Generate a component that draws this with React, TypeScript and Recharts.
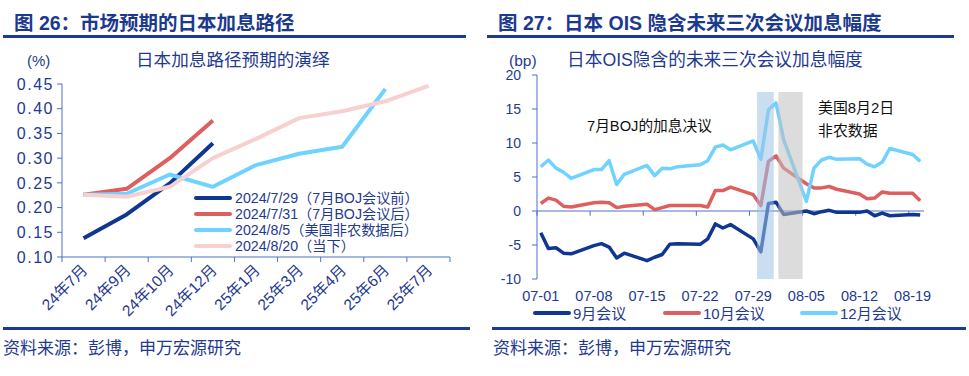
import { LineChart, Line, XAxis, YAxis, ReferenceArea, ReferenceLine } from 'recharts'

// 图26：市场预期的日本加息路径 (%)
const pathMonths = ['24年7月', '24年9月', '24年10月', '24年12月', '25年1月', '25年3月', '25年4月', '25年6月', '25年7月']
const pathYTicks = [0.1, 0.15, 0.2, 0.25, 0.3, 0.35, 0.4, 0.45]
const path0729 = [0.138, 0.186, 0.249, 0.33, null, null, null, null, null]
const path0731 = [0.226, 0.238, 0.3, 0.376, null, null, null, null, null]
const path0805 = [0.226, 0.228, 0.267, 0.242, 0.286, 0.309, 0.323, 0.44, null]
const path0820 = [0.226, 0.222, 0.242, 0.3, 0.339, 0.381, 0.395, 0.415, 0.446]

// 图27：日本OIS隐含的未来三次会议加息幅度 (bp), days counted from 07-01
const oisDays = [0, 1, 2, 3, 4, 7, 8, 9, 10, 11, 14, 15, 16, 17, 18, 21, 22, 23, 24, 25, 28, 29, 30, 31, 32, 35, 36, 37, 38, 39, 42, 43, 44, 45, 46, 49, 50]
const oisSep = [-3.2, -5.5, -5.4, -6.2, -6.3, -5.1, -4.8, -5.3, -6.9, -6.2, -7.3, -6.8, -6.4, -4.9, -4.8, -4.9, -4.1, -1.9, -2.5, -2.0, -4.1, -6.0, 1.1, 1.3, -0.5, 0.0, -0.4, -0.1, 0.1, -0.2, -0.2, 0.0, -0.7, -0.3, -0.7, -0.5, -0.6]
const oisOct = [1.1, 1.9, 1.6, 0.7, 0.6, 1.2, 1.3, 1.2, 0.5, 0.7, 1.0, 0.2, 0.5, 0.8, 0.8, 0.8, 0.6, 3.0, 3.0, 3.5, 2.4, 0.8, 7.3, 8.1, 6.3, 4.0, 3.4, 3.4, 3.6, 3.2, 2.5, 1.8, 1.9, 2.8, 2.6, 2.6, 1.5]
const oisDec = [6.5, 7.5, 6.3, 5.7, 4.8, 6.1, 6.1, 7.4, 3.9, 5.4, 6.7, 5.2, 6.3, 6.2, 6.5, 6.8, 7.4, 9.4, 9.7, 9.0, 10.3, 7.6, 14.9, 15.9, 10.5, 1.4, 6.3, 7.5, 7.9, 7.6, 7.7, 6.9, 6.5, 7.2, 9.2, 8.3, 7.3]
const oisTickDays = [0, 7, 14, 21, 28, 35, 42, 49]
const oisTickLabels = ['07-01', '07-08', '07-15', '07-22', '07-29', '08-05', '08-12', '08-19']
const oisYTicks = [-10, -5, 0, 5, 10, 15, 20]
const bojWindow = [29, 31.2]
const nfpWindow = [31.8, 35]

const FONT = "'Liberation Sans', 'Noto Sans CJK SC', sans-serif"
const BLUE_TEXT = '#1F3A8F'
const AXIS = '#4A72C8'
const NAVY = '#0F3690'
const RED = '#DE5F5F'
const SKY = '#6FD2FF'
const PINK = '#F7D0D0'

const pathData = pathMonths.map((m, i) => ({
  x: i + 0.5,
  m,
  a: path0729[i],
  b: path0731[i],
  c: path0805[i],
  d: path0820[i],
}))
const pathXTicks = [...pathMonths.flatMap((_, i) => [i, i + 0.5]), pathMonths.length]

const oisData = oisDays.map((d, i) => ({ x: d + 0.5, sep: oisSep[i], oct: oisOct[i], dec: oisDec[i] }))
const oisLabelTicks = oisTickDays.map(d => d + 0.5)

const pathSeries = [
  { key: 'a', name: '2024/7/29（7月BOJ会议前）', color: NAVY },
  { key: 'b', name: '2024/7/31（7月BOJ会议后）', color: RED },
  { key: 'c', name: '2024/8/5（美国非农数据后）', color: SKY },
  { key: 'd', name: '2024/8/20（当下）', color: PINK },
]
const oisSeries = [
  { key: 'sep', name: '9月会议', color: NAVY, left: 533 },
  { key: 'oct', name: '10月会议', color: RED, left: 663 },
  { key: 'dec', name: '12月会议', color: SKY, left: 800 },
]

function PathTick({ x, y, payload }: any) {
  const v = payload.value
  if (Number.isInteger(v)) {
    return <line x1={x} y1={y} x2={x} y2={y + 5} stroke={AXIS} />
  }
  const label = pathMonths[Math.floor(v)]
  const tx = x + 5
  const ty = y + 14
  return (
    <text x={tx} y={ty} transform={`rotate(-45 ${tx} ${ty})`} textAnchor="end" fill={BLUE_TEXT} fontSize={15.5} fontFamily={FONT}>
      {label}
    </text>
  )
}

const abs = (left: number, top: number, extra: any = {}) => ({ position: 'absolute' as const, left, top, ...extra })

function Text({ left, top, size, color = BLUE_TEXT, bold = false, children }: any) {
  return (
    <div style={abs(left, top, { fontSize: size, lineHeight: 1, color, fontWeight: bold ? 700 : 400, whiteSpace: 'nowrap', fontFamily: FONT })}>
      {children}
    </div>
  )
}

function Rule({ left, top, width }: any) {
  return <div style={abs(left, top, { width, height: 3, background: '#1B3A93' })} />
}

export default function App() {
  return (
    <div style={{ position: 'absolute', left: 0, top: 0, width: 969, height: 376, background: '#fff', overflow: 'hidden', fontFamily: FONT }}>
      {/* headers */}
      <Text left={14} top={13.5} size={19.5} bold color="#1B3A8F">图 26：市场预期的日本加息路径</Text>
      <Text left={498} top={13.5} size={19.5} bold color="#1B3A8F">图 27：日本 OIS 隐含未来三次会议加息幅度</Text>
      <Rule left={3} top={35} width={463} />
      <Rule left={487} top={35} width={467} />

      <Text left={27} top={52.5} size={15}>(%)</Text>
      <Text left={136} top={51.5} size={17.6}>日本加息路径预期的演绎</Text>
      <Text left={509} top={52.5} size={15.5}>(bp)</Text>
      <Text left={567} top={51.5} size={17.7}>日本OIS隐含的未来三次会议加息幅度</Text>

      {/* left chart */}
      <div style={abs(0, 0)}>
        <LineChart width={470} height={340} data={pathData} margin={{ top: 84, right: 20, left: 0, bottom: 23 }}>
          <XAxis
            dataKey="x"
            type="number"
            domain={[0, pathMonths.length]}
            ticks={pathXTicks}
            interval={0}
            tick={<PathTick />}
            tickLine={false}
            tickSize={0}
            tickMargin={0}
            axisLine={{ stroke: AXIS }}
            height={60}
          />
          <YAxis
            type="number"
            domain={[0.1, 0.45]}
            ticks={pathYTicks}
            interval={0}
            tickFormatter={(v: number) => v.toFixed(2)}
            width={62}
            axisLine={{ stroke: AXIS }}
            tickLine={{ stroke: AXIS }}
            tickSize={5}
            tickMargin={3}
            tick={{ fill: BLUE_TEXT, fontSize: 16, fontFamily: FONT, letterSpacing: 1.5 }}
          />
          {pathSeries.map(s => (
            <Line
              key={s.key}
              dataKey={s.key}
              stroke={s.color}
              strokeWidth={4}
              dot={false}
              type="linear"
              strokeLinejoin="round"
              isAnimationActive={false}
            />
          ))}
        </LineChart>
      </div>
      {pathSeries.map((s, i) => (
        <div key={s.key} style={abs(194, 190 + i * 16.1, { display: 'flex', alignItems: 'center', height: 16 })}>
          <div style={{ width: 38, height: 4, background: s.color, borderRadius: 2 }} />
          <span style={{ marginLeft: 3, fontSize: 14.2, color: BLUE_TEXT, whiteSpace: 'nowrap', lineHeight: 1 }}>{s.name}</span>
        </div>
      ))}

      {/* right chart */}
      <div style={abs(480, 0)}>
        <LineChart width={489} height={340} data={oisData} margin={{ top: 75, right: 45, left: 0, bottom: 40 }}>
          <XAxis
            dataKey="x"
            type="number"
            domain={[0, 51]}
            ticks={oisLabelTicks}
            interval={0}
            tickFormatter={(_v: number, i: number) => oisTickLabels[i]}
            axisLine={false}
            tickLine={false}
            tickSize={0}
            tickMargin={12}
            height={21}
            tick={{ fill: BLUE_TEXT, fontSize: 14.5, fontFamily: FONT }}
          />
          <YAxis
            type="number"
            domain={[-10, 20]}
            ticks={oisYTicks}
            interval={0}
            width={57}
            axisLine={{ stroke: AXIS }}
            tickLine={{ stroke: AXIS }}
            tickSize={5}
            tickMargin={11}
            tick={{ fill: BLUE_TEXT, fontSize: 14, fontFamily: FONT }}
          />
          <ReferenceLine y={0} stroke={AXIS} strokeWidth={1} />
          {oisTickDays.map(d => (
            <ReferenceLine key={d} segment={[{ x: d, y: 0 }, { x: d, y: -0.7 }]} stroke={AXIS} />
          ))}
          {oisSeries.map(s => (
            <Line
              key={s.key}
              dataKey={s.key}
              stroke={s.color}
              strokeWidth={3.5}
              dot={false}
              type="linear"
              strokeLinejoin="round"
              isAnimationActive={false}
            />
          ))}
          <ReferenceArea x1={bojWindow[0]} x2={bojWindow[1]} y1={-10} y2={17.5} fill="#9DC3E6" fillOpacity={0.55} stroke="none" zIndex={450} />
          <ReferenceArea x1={nfpWindow[0]} x2={nfpWindow[1]} y1={-10} y2={17.5} fill="#BFBFBF" fillOpacity={0.55} stroke="none" zIndex={450} />
        </LineChart>
      </div>
      <Text left={587} top={118.5} size={14.7} color="#111">7月BOJ的加息决议</Text>
      <Text left={818} top={100.5} size={14.9} color="#111">美国8月2日</Text>
      <Text left={818} top={124} size={14.9} color="#111">非农数据</Text>
      {oisSeries.map(s => (
        <div key={s.key} style={abs(s.left, 305, { display: 'flex', alignItems: 'center', height: 16 })}>
          <div style={{ width: 38, height: 4, background: s.color, borderRadius: 2 }} />
          <span style={{ marginLeft: 2, fontSize: 15, color: BLUE_TEXT, whiteSpace: 'nowrap', lineHeight: 1 }}>{s.name}</span>
        </div>
      ))}

      {/* footers */}
      <Rule left={3} top={327} width={467} />
      <Rule left={492} top={327} width={474} />
      <Text left={3} top={339.5} size={17}>资料来源：彭博，申万宏源研究</Text>
      <Text left={493} top={339.5} size={17}>资料来源：彭博，申万宏源研究</Text>
    </div>
  )
}
